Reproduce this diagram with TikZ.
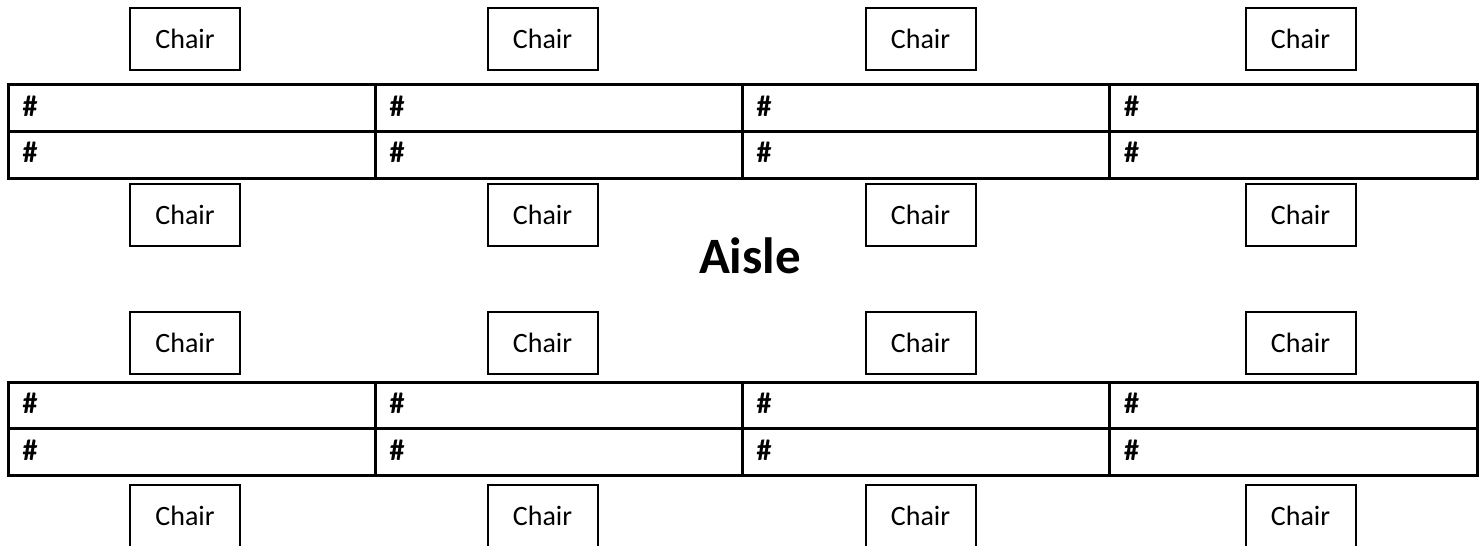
\documentclass[tikz,border=0pt]{standalone}
\usepackage{fontspec}
\setmainfont{Carlito}
\begin{document}
\begin{tikzpicture}[x=1pt,y=-1pt,
  chairbox/.style={draw,line width=2pt,minimum width=110pt,minimum height=62pt,inner sep=0pt,font=\fontsize{28}{34}\selectfont},
  tline/.style={line width=3pt},
  hash/.style={anchor=base west,inner sep=0pt,font=\fontsize{30}{36}\selectfont\bfseries},
  aisle/.style={anchor=base,inner sep=0pt,font=\fontsize{51}{60}\selectfont\bfseries}]
\useasboundingbox (0,0) rectangle (1484,546);
% chairs
\foreach \cx [count=\i] in {185,542.5,920.5,1300.5}{
  \node[chairbox] (ca\i) at (\cx,39) {Chair\hspace{7pt}};
  \node[chairbox] (cb\i) at (\cx,214.5) {Chair\hspace{7pt}};
  \node[chairbox] (cc\i) at (\cx,343) {Chair\hspace{7pt}};
  \node[chairbox] (cd\i) at (\cx,515.5) {Chair\hspace{7pt}};
}
% tables
\foreach \ty [count=\t] in {84.5,382}{
  \draw[tline] (8,\ty) rectangle (1477,\ty+93.5);
  \draw[tline] (8,\ty+46.5) -- (1477,\ty+46.5);
  \foreach \dx in {375,742,1109.5}{
    \draw[tline] (\dx,\ty) -- (\dx,\ty+93.5);
  }
  \foreach \hx [count=\c] in {8,375,742,1109.5}{
    \node[hash] (h\t\c a) at (\hx+14.5,\ty+31.5) {\#};
    \node[hash] (h\t\c b) at (\hx+14.5,\ty+78) {\#};
  }
}
\node[aisle] (aisle) at (750,273) {Aisle};
\end{tikzpicture}
\end{document}
